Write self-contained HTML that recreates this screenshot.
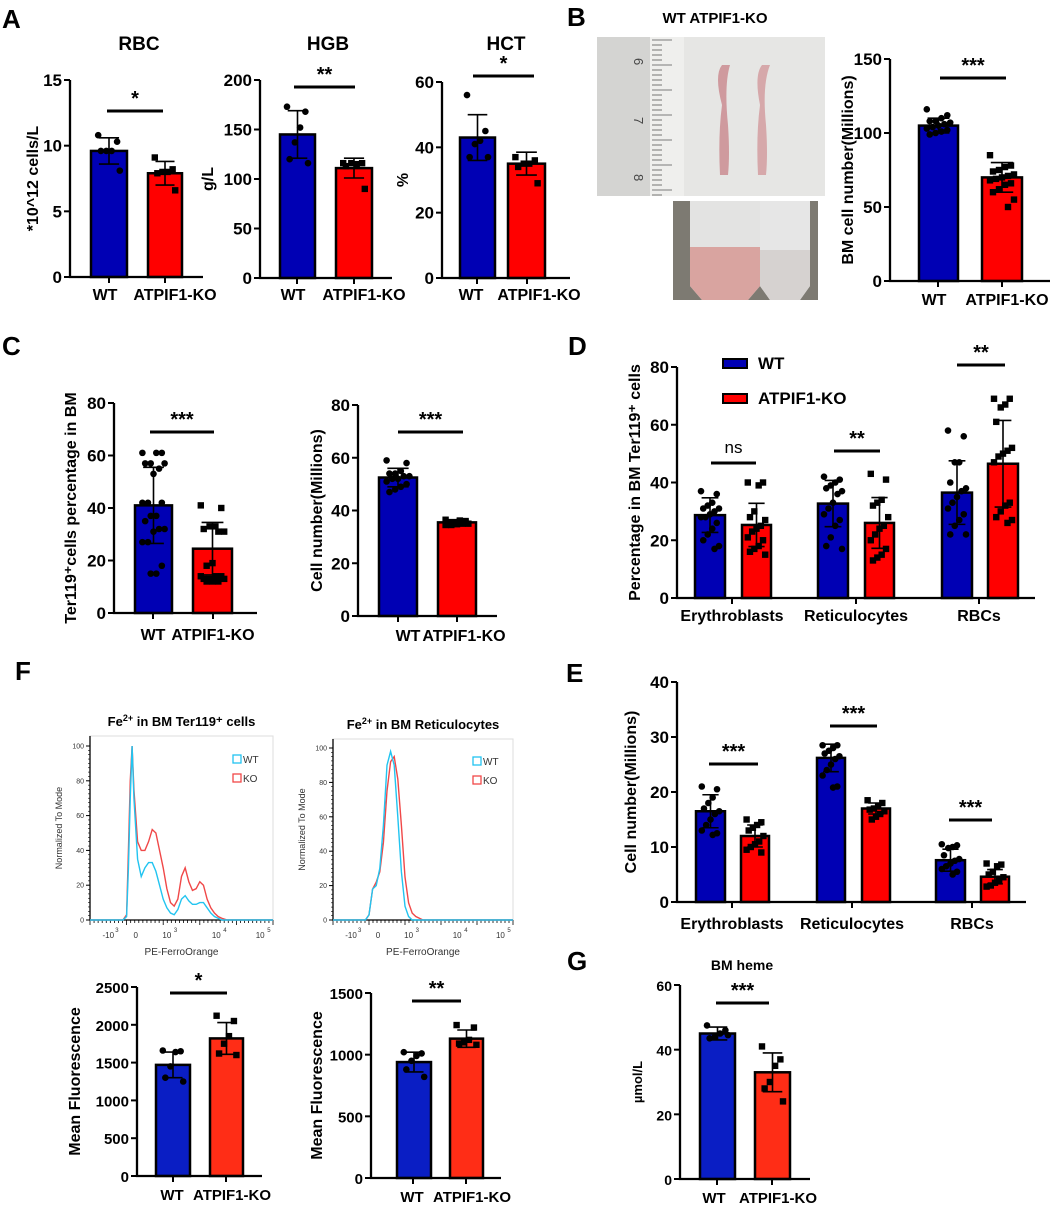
<!DOCTYPE html>
<html><head><meta charset="utf-8"><style>
html,body{margin:0;padding:0;background:#fff}
svg{display:block;font-family:"Liberation Sans",Arial,sans-serif}
</style></head><body>
<svg id="fig" width="1059" height="1206" viewBox="0 0 1059 1206" xmlns="http://www.w3.org/2000/svg">
<g font-weight="bold" font-size="26">
<text x="2" y="28">A</text>
<text x="567" y="26">B</text>
<text x="2" y="355">C</text>
<text x="568" y="355">D</text>
<text x="15" y="680">F</text>
<text x="566" y="682">E</text>
<text x="567" y="970">G</text>
</g>
<g>
<text x="715" y="23" font-size="15" font-weight="bold" text-anchor="middle">WT   ATPIF1-KO</text>
<rect x="597" y="37" width="228" height="159" fill="#e6e6e4"/>
<rect x="597" y="37" width="55" height="159" fill="#d4d4d2"/>
<rect x="650" y="37" width="34" height="159" fill="#efefed"/>
<g stroke="#555" stroke-width="0.8" id="ruler"></g>
<text x="634" y="58" font-size="13" fill="#444" transform="rotate(90 634 58)">6</text>
<text x="634" y="117" font-size="13" fill="#444" transform="rotate(90 634 117)">7</text>
<text x="634" y="174" font-size="13" fill="#444" transform="rotate(90 634 174)">8</text>
<path d="M722 105 q-8 -30 0 -40 l8 0 q-6 20 -2 60 q2 30 0 50 l-8 0 q-2 -40 2 -70z" fill="#cf9a9e"/>
<path d="M760 105 q-6 -30 2 -40 l8 0 q-8 20 -4 60 q2 30 0 50 l-8 0 q-2 -40 2 -70z" fill="#d6a8aa"/>
</g>
<g>
<rect x="673" y="201" width="145" height="99" fill="#7d7a72"/>
<path d="M690 201 h70 v85 l-12 14 h-46 l-12 -14z" fill="#e3e3e2"/>
<path d="M690 247 h70 v39 l-12 14 h-46 l-12 -14z" fill="#d9a4a0"/>
<path d="M760 201 h50 v85 l-10 14 h-30 l-10 -14z" fill="#e6e6e6"/>
<path d="M760 250 h50 v36 l-10 14 h-30 l-10 -14z" fill="#d6d2d0"/>
</g>
<g id="charts"></g>
<g id="flow"></g>
</svg>
<script>
// ---------- DATA ----------
const groups2 = ["WT","ATPIF1-KO"];
const rbcMeans=[9.6,7.9], rbcSD=[1.0,0.9];
const rbcWT=[10.8,10.3,9.6,9.6,9.6,8.1], rbcKO=[9.1,8.2,8.0,8.0,7.9,6.6];
const hgbMeans=[145,111], hgbSD=[24,10];
const hgbWT=[173,168,152,137,120,116], hgbKO=[116,116,115,116,113,90];
const hctMeans=[43,35], hctSD=[7,3.5];
const hctWT=[56,45,42,41,37,37], hctKO=[37,36,35,35,34,29];
const bmMeans=[105,70], bmSD=[5,10];
const bmWT=[116,112,110,108,108,107,106,105,104,103,102,101,100,99];
const bmKO=[85,78,77,75,74,72,71,70,69,68,66,65,62,60,55,50];
const terMeans=[41,24.5], terSD=[14.5,10];
const terWT=[61,61,61,57,57,57,55,53,42,42,42,37,37,35,32,32,31,27,27,18,15,15];
const terKO=[41,40,33,33,32,31,31,19,18,14,14,14,13,13,13,12,12,12];
const cnMeans=[52.5,35.5], cnSD=[3.5,1];
const cnWT=[59,58,55,54,54,53,53,52,52,51,50,49,48,47];
const cnKO=[36.5,36,36,35.5,35.5,35,35,34.8,34.5,34.5,35.8,36.2];
const stages=["Erythroblasts","Reticulocytes","RBCs"];
const dMeansWT=[28.7,32.7,36.5], dMeansKO=[25.3,26,46.5];
const dSDWT=[6,8,11], dSDKO=[7.5,8.8,15];
const dPtsWT=[[37,36,33,32,31,31,30,29,28,28,26,24,22,20,18,17],[42,41,40,39,38,37,36,33,31,29,27,25,21,18,17],[58,56,47,47,40,38,37,35,33,31,29,27,25,22,22]];
const dPtsKO=[[40,40,39,30,28,27,25,24,23,21,20,18,17,16,15],[43,41,34,33,32,28,25,24,22,20,17,15,14,13],[69,69,67,66,61,52,51,50,49,47,33,32,30,28,27,26]];
const eMeansWT=[16.5,26.2,7.6], eMeansKO=[12,17,4.6];
const eSDWT=[3,2.5,2], eSDKO=[2,1,1.3];
const ePtsWT=[[21,20.5,19,18,17,16.5,16,15,14,13,12.5,12.2],[28.5,28.5,28,27.5,27,26.5,26,25,24,23,21,20.8],[10.5,10.3,10,9.8,8.5,7.8,7.5,7,6.5,6,5.5,5]];
const ePtsKO=[[15,14.5,14,13.5,13,12,11,10.5,10,9.5,9],[18.5,18,17.5,17,16.8,16.5,16,15.5,15],[7,6.8,6.5,5.5,5,4.5,4,3.5,3,2.8]];
const mfTerMeans=[1470,1820], mfTerSD=[170,210];
const mfTerWT=[1660,1650,1640,1450,1300,1250], mfTerKO=[2120,2050,1850,1750,1620,1600];
const mfRetMeans=[940,1130], mfRetSD=[80,70];
const mfRetWT=[1020,1010,990,950,880,820], mfRetKO=[1240,1220,1120,1100,1090,1080];
const hemeMeans=[45,33], hemeSD=[2,6];
const hemeWT=[47.5,46,45,44,43.5,44.5], hemeKO=[41,37,35,30,28,24];
const flowTerX=[0,18,20,21,22,23,24,26,28,30,32,34,36,38,40,42,44,46,48,50,52,54,56,58,60,62,64,66,68,70,72,75,80,100];
const flowTerWT=[0,0,2,30,70,100,70,35,25,30,33,33,28,20,12,7,4,3,6,12,14,11,9,9,10,10,7,4,2,1,0,0,0,0];
const flowTerKO=[0,0,3,40,80,100,75,45,40,40,45,52,50,40,30,18,10,8,12,25,30,22,17,18,22,20,12,7,4,2,1,0,0,0];
const flowRetX=[0,18,20,22,24,26,28,30,32,34,36,38,40,42,44,46,48,50,55,100];
const flowRetWT=[0,0,3,18,20,30,55,90,98,90,60,28,8,2,0,0,0,0,0,0];
const flowRetKO=[0,0,3,18,22,28,45,75,92,95,82,55,25,10,4,2,1,0,0,0];

const NS="http://www.w3.org/2000/svg";
const root=document.getElementById('charts');
function el(tag,attrs,parent,text){const e=document.createElementNS(NS,tag);for(const k in attrs)e.setAttribute(k,attrs[k]);if(text!==undefined)e.textContent=text;(parent||root).appendChild(e);return e;}

const rul=document.getElementById('ruler');
for(let i=0;i<32;i++){const y=40+i*5;el('line',{x1:652,x2:i%5==0?672:662,y1:y,y2:y},rul);}

function barChart(c){
  const g=el('g',{});
  
  
  const Y=v=>c.y0-v/c.max*(c.y0-c.yT);
  c.bars.forEach((b,i)=>{
    const r=el('rect',{x:b.x0,y:Y(b.mean),width:b.x1-b.x0,height:c.y0-Y(b.mean),fill:b.fill,stroke:'#000','stroke-width':2.5},g);
    
    
    const cx=(b.x0+b.x1)/2, w=b.x1-b.x0;
    b.pts.forEach((v,j)=>{
      const off=(((j*7)%9)-4)/4*(w*0.3);
      let m;
      if(b.sq) m=el('rect',{x:cx+off-3.2,y:Y(v)-3.2,width:6.4,height:6.4,fill:'#000'},g);
      else m=el('circle',{cx:cx+off,cy:Y(v),r:3.3,fill:'#000'},g);
      
      
    });
    const eb=el('path',{d:`M${cx},${Y(b.mean-b.sd)}V${Y(b.mean+b.sd)}M${cx-w*0.28},${Y(b.mean+b.sd)}h${w*0.56}M${cx-w*0.28},${Y(b.mean-b.sd)}h${w*0.56}`,stroke:'#000','stroke-width':1.6,fill:'none'},g);
    
    
  });
  el('path',{d:`M${c.ax},${c.yT}V${c.y0}H${c.xEnd}`,stroke:'#000','stroke-width':2.3,fill:'none'},g);
  for(let v=0;v<=c.max+1e-9;v+=c.step){
    el('line',{x1:c.ax-6,x2:c.ax,y1:Y(v),y2:Y(v),stroke:'#000','stroke-width':2},g);
    const t=el('text',{x:c.ax-8,y:Y(v)+6,'font-size':c.fs||17,'font-weight':'bold','text-anchor':'end'},g,String(v));
    
    
  }
  c.xt.forEach((x,i)=>{
    el('line',{x1:x,x2:x,y1:c.y0,y2:c.y0+6,stroke:'#000','stroke-width':2},g);
    const t=el('text',{x:x+(c.xlOff?c.xlOff[i]:0),y:c.xlY,'font-size':c.xfs||16,'font-weight':'bold','text-anchor':'middle'},g,c.xl[i]);
    
    
  });
  if(c.ylab){const yy=(c.yT+c.y0)/2;const t=el('text',{x:c.ylx,y:yy,'font-size':c.yfs||16,'font-weight':'bold','text-anchor':'middle',transform:`rotate(-90 ${c.ylx} ${yy})`},g,c.ylab);
    }
  if(c.title){const t=el('text',{x:c.title[1],y:c.title[2],'font-size':c.title[3]||19,'font-weight':'bold','text-anchor':'middle'},g,c.title[0]);
    }
  (c.sig||[]).forEach(s=>{
    el('line',{x1:s[0],x2:s[1],y1:s[2],y2:s[2],stroke:'#000','stroke-width':3},g);
    const t=el('text',{x:(s[0]+s[1])/2,y:s[2]-(s[3]==='ns'?10:6),'font-size':s[3]==='ns'?17:20,'font-weight':s[3]==='ns'?'normal':'bold','text-anchor':'middle'},g,s[3]);
    
  });
  return g;
}
const B='#0000b4', R='#ff0000', B2='#0a1ec4', R2='#ff2d16';
function two(means,sd,wt,ko,x,bc,rc){return [{x0:x[0],x1:x[1],fill:bc||B,mean:means[0],sd:sd[0],pts:wt},{x0:x[2],x1:x[3],fill:rc||R,mean:means[1],sd:sd[1],pts:ko,sq:true}];}

barChart({name:'rbc-chart',ax:70,yT:80,y0:277,max:15,step:5,xEnd:203,bars:two(rbcMeans,rbcSD,rbcWT,rbcKO,[91,127,148,182]),xt:[109,165],xl:groups2,xlOff:[-4,10],xlY:300,ylab:'*10^12 cells/L',ylx:38,title:['RBC',139,50],sig:[[107,163,111,'*']]});
barChart({name:'hgb-chart',ax:260,yT:80,y0:278,max:200,step:50,xEnd:392,bars:two(hgbMeans,hgbSD,hgbWT,hgbKO,[280,315,336,372]),xt:[297,354],xl:groups2,xlOff:[-4,10],xlY:300,ylab:'g/L',ylx:213,title:['HGB',328,50],sig:[[294,355,87,'**']]});
barChart({name:'hct-chart',ax:442,yT:82,y0:278,max:60,step:20,xEnd:570,bars:two(hctMeans,hctSD,hctWT,hctKO,[460,495,508,545]),xt:[477,527],xl:groups2,xlOff:[-6,12],xlY:300,ylab:'%',ylx:408,title:['HCT',506,50],sig:[[473,534,76,'*']]});
barChart({name:'bm-cell-chart',ax:890,yT:59,y0:281,max:150,step:50,xEnd:1050,bars:two(bmMeans,bmSD,bmWT,bmKO,[919,958,982,1022]),xt:[938,1002],xl:['WT','ATPIF1-KO'],xlOff:[-4,5],xlY:305,ylab:'BM cell number(Millions)',ylx:853,sig:[[940,1006,78,'***']]});
barChart({name:'ter119-percent-chart',ax:114,yT:403,y0:613,max:80,step:20,xEnd:257,bars:two(terMeans,terSD,terWT,terKO,[135,172,193,232]),xt:[153,213],xl:groups2,xlY:640,ylab:'Ter119⁺cells percentage in BM',ylx:76,sig:[[150,214,432,'***']]});
barChart({name:'ter119-cell-number-chart',ax:358,yT:405,y0:616,max:80,step:20,xEnd:497,bars:two(cnMeans,cnSD,cnWT,cnKO,[379,417,438,476]),xt:[398,457],xl:['WT','ATPIF1-KO'],xlOff:[10,7],xlY:641,ylab:'Cell number(Millions)',ylx:322,sig:[[398,463,432,'***']]});
function three(mw,mk,sw,sk,pw,pk,xs){return stages.flatMap((s,i)=>[{x0:xs[i][0],x1:xs[i][1],fill:B,mean:mw[i],sd:sw[i],pts:pw[i]},{x0:xs[i][2],x1:xs[i][3],fill:R,mean:mk[i],sd:sk[i],pts:pk[i],sq:true}]);}
barChart({name:'stage-percentage-chart',ax:677,yT:367,y0:598,max:80,step:20,xEnd:1035,bars:three(dMeansWT,dMeansKO,dSDWT,dSDKO,dPtsWT,dPtsKO,[[695,725,742,771],[818,848,865,894],[942,972,988,1018]]),xt:[732,856,979],xl:stages,xlY:621,xfs:16,ylab:'Percentage in BM Ter119⁺ cells',ylx:640,sig:[[711,756,463,'ns'],[834,880,451,'**'],[957,1005,365,'**']]});
barChart({name:'stage-cell-number-chart',ax:677,yT:682,y0:902,max:40,step:10,xEnd:1026,bars:three(eMeansWT,eMeansKO,eSDWT,eSDKO,ePtsWT,ePtsKO,[[696,725,741,769],[817,845,862,890],[936,965,981,1009]]),xt:[732,852,972],xl:stages,xlY:929,xfs:16,ylab:'Cell number(Millions)',ylx:636,sig:[[709,758,764,'***'],[830,877,726,'***'],[949,992,820,'***']]});
barChart({name:'ter119-fluorescence-chart',ax:137,yT:987,y0:1176,max:2500,step:500,xEnd:262,bars:two(mfTerMeans,mfTerSD,mfTerWT,mfTerKO,[156,190,210,243],B2,R2),xt:[173,226],xl:['WT','ATPIF1-KO'],xlOff:[-1,6],xlY:1200,xfs:15,fs:15,ylab:'Mean Fluorescence',ylx:80,sig:[[170,227,993,'*']]});
barChart({name:'reticulocyte-fluorescence-chart',ax:371,yT:993,y0:1178,max:1500,step:500,xEnd:501,bars:two(mfRetMeans,mfRetSD,mfRetWT,mfRetKO,[397,431,450,483],B2,R2),xt:[413,466],xl:['WT','ATPIF1-KO'],xlOff:[-1,6],xlY:1202,xfs:15,fs:15,ylab:'Mean Fluorescence',ylx:322,sig:[[412,461,1001,'**']]});
barChart({name:'bm-heme-chart',ax:680,yT:985,y0:1179,max:60,step:20,xEnd:810,bars:two(hemeMeans,hemeSD,hemeWT,hemeKO,[700,735,755,790],B2,R2),xt:[717,772],xl:['WT','ATPIF1-KO'],xlOff:[-3,6],xlY:1203,xfs:15,fs:14,ylab:'µmol/L',ylx:642,yfs:13,title:['BM heme',742,970,14],sig:[[716,769,1003,'***']]});

const lg=el('g',{});


el('rect',{x:723,y:359,width:24,height:9,fill:B,stroke:'#000','stroke-width':2},lg);
el('text',{x:758,y:369,'font-size':17,'font-weight':'bold'},lg,'WT');
el('rect',{x:723,y:394,width:24,height:9,fill:R,stroke:'#000','stroke-width':2},lg);
el('text',{x:758,y:404,'font-size':17,'font-weight':'bold'},lg,'ATPIF1-KO');

const fl=document.getElementById('flow');
function flow(c){
  const g=el('g',{},fl);
  
  
  const X=v=>c.x0+v/100*(c.x1-c.x0), Y=v=>c.y0-v/100*(c.y0-c.y100);
  el('rect',{x:c.x0,y:c.yTop,width:c.x1-c.x0,height:c.y0-c.yTop,fill:'none',stroke:'#ddd','stroke-width':1},g);
  el('path',{d:`M${c.x0},${c.yTop}V${c.y0}H${c.x1}`,stroke:'#000','stroke-width':1.3,fill:'none'},g);
  [0,20,40,60,80,100].forEach(v=>{el('line',{x1:c.x0-4,x2:c.x0,y1:Y(v),y2:Y(v),stroke:'#000'},g);
    el('text',{x:c.x0-6,y:Y(v)+2.5,'font-size':7,'text-anchor':'end',fill:'#333'},g,String(v));});
  for(let i=0;i<=40;i++)el('line',{x1:c.x0-2,x2:c.x0,y1:Y(i*2.5),y2:Y(i*2.5),stroke:'#000','stroke-width':0.6},g);
  for(let i=0;i<=45;i++){const xx=c.x0+i*(c.x1-c.x0)/45;el('line',{x1:xx,x2:xx,y1:c.y0,y2:c.y0+(i%9==0?5:3),stroke:'#000','stroke-width':0.8},g);}
  const lbl=[['-10','3',10],['0','',25],['10','3',42],['10','4',69],['10','5',93]];
  lbl.forEach(l=>{el('text',{x:X(l[2]),y:c.y0+18,'font-size':8,'text-anchor':'middle',fill:'#333'},g,l[0]);
    if(l[1])el('text',{x:X(l[2])+7,y:c.y0+12,'font-size':6,fill:'#333'},g,l[1]);});
  el('text',{x:(c.x0+c.x1)/2,y:c.y0+35,'font-size':10,'text-anchor':'middle',fill:'#333'},g,'PE-FerroOrange');
  const ym=(c.y0+c.yTop)/2;
  el('text',{x:c.x0-28,y:ym,'font-size':9,'text-anchor':'middle',fill:'#333',transform:`rotate(-90 ${c.x0-28} ${ym})`},g,'Normalized To Mode');
  const t=el('text',{x:(c.x0+c.x1)/2,y:c.yTop-10,'font-size':13,'font-weight':'bold','text-anchor':'middle'},g);
  t.innerHTML='Fe<tspan dy="-5" font-size="9">2+</tspan><tspan dy="5"> in BM '+c.title+'</tspan>';
  
  
  [[c.ko,'#f04848'],[c.wt,'#22c4f0']].forEach(s=>{
    const p=el('path',{d:'M'+c.xs.map((x,i)=>X(x)+','+Y(s[0][i])).join('L'),fill:'none',stroke:s[1],'stroke-width':1.4},g);
    
    
  });
  el('rect',{x:c.x1-40,y:c.y100+9,width:8,height:8,fill:'none',stroke:'#22c4f0','stroke-width':1.3},g);
  el('text',{x:c.x1-30,y:c.y100+17,'font-size':10,fill:'#333'},g,'WT');
  el('rect',{x:c.x1-40,y:c.y100+28,width:8,height:8,fill:'none',stroke:'#f04848','stroke-width':1.3},g);
  el('text',{x:c.x1-30,y:c.y100+36,'font-size':10,fill:'#333'},g,'KO');
}
flow({name:'ter119-fe-histogram',x0:90,x1:273,yTop:736,y0:920,y100:746,xs:flowTerX,wt:flowTerWT,ko:flowTerKO,title:'Ter119⁺ cells'});
flow({name:'reticulocyte-fe-histogram',x0:333,x1:513,yTop:739,y0:920,y100:748,xs:flowRetX,wt:flowRetWT,ko:flowRetKO,title:'Reticulocytes'});
</script>
</body></html>
